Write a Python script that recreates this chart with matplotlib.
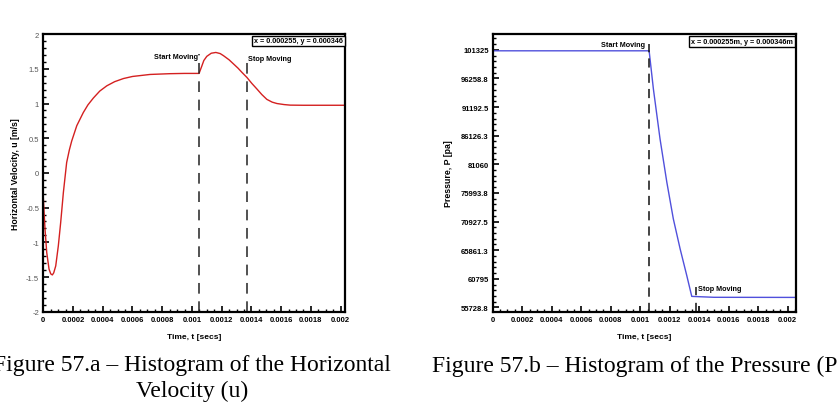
import matplotlib
matplotlib.use("Agg")
import matplotlib.pyplot as plt
from matplotlib.ticker import AutoMinorLocator

plt.rcParams['font.family'] = ['Liberation Sans', 'DejaVu Sans']

# ---- data: horizontal velocity (left) ----
t_u = [0.0, 0.0000114, 0.0000229, 0.0000384, 0.00005, 0.0000607, 0.00007,
       0.0000835, 0.000101, 0.000117, 0.000135, 0.000157, 0.000175, 0.000191,
       0.000225, 0.000269, 0.0003, 0.000337, 0.00038, 0.000427, 0.00048,
       0.000539, 0.0006, 0.000718, 0.00085, 0.00095, 0.001048,
       0.001067, 0.00108, 0.0011, 0.00113, 0.001161, 0.00119, 0.001212,
       0.00125, 0.00128, 0.00131, 0.001336, 0.00137, 0.001403, 0.001437,
       0.00147, 0.001504, 0.00154, 0.001572, 0.00162, 0.001661, 0.00175,
       0.00185, 0.00203]
u_vals = [-0.36, -0.81, -1.146, -1.386, -1.455, -1.47, -1.44,
          -1.34, -1.05, -0.71, -0.28, 0.15, 0.33, 0.46,
          0.68, 0.87, 0.98, 1.08, 1.18, 1.255, 1.315,
          1.36, 1.39, 1.419, 1.43, 1.434, 1.434,
          1.543, 1.62, 1.68, 1.725, 1.736, 1.72, 1.69,
          1.63, 1.57, 1.51, 1.45, 1.376, 1.29, 1.21,
          1.13, 1.06, 1.02, 1.0, 0.985, 0.977, 0.975,
          0.975, 0.975]

# ---- data: pressure (right) ----
t_p = [0.0, 0.00106, 0.001089, 0.001134, 0.00118, 0.001224, 0.00127,
       0.001315, 0.001349, 0.0015, 0.00205]
p_vals = [101150, 101150, 94381, 85546, 77894, 71409, 66108,
          61390, 57680, 57520, 57500]

u_ticks = [-2, -1.5, -1, -0.5, 0, 0.5, 1, 1.5, 2]
u_ticklabels = ['-2', '-1.5', '-1', '-0.5', '0', '0.5', '1', '1.5', '2']
p_ticks = [55728.8, 60795, 65861.3, 70927.5, 75993.8, 81060, 86126.3,
           91192.5, 96258.8, 101325]
p_ticklabels = ['55728.8', '60795', '65861.3', '70927.5', '75993.8', '81060',
                '86126.3', '91192.5', '96258.8', '101325']
t_ticks = [0, 0.0002, 0.0004, 0.0006, 0.0008, 0.001, 0.0012, 0.0014,
           0.0016, 0.0018, 0.002]
t_ticklabels = ['0', '0.0002', '0.0004', '0.0006', '0.0008', '0.001', '0.0012',
                '0.0014', '0.0016', '0.0018', '0.002']

start_u, stop_u = 0.001048, 0.00137
start_p, stop_p = 0.00106, 0.001376

fig = plt.figure(figsize=(8.38, 4.10), dpi=100)
ax1 = fig.add_axes([0.0517, 0.2373, 0.360, 0.677])
ax2 = fig.add_axes([0.588, 0.2373, 0.3616, 0.677])

def style(ax, xmax):
    for s in ax.spines.values():
        s.set_linewidth(1.6)
    ax.set_xlim(0, xmax)
    ax.set_xticks(t_ticks)
    ax.set_xticklabels(t_ticklabels, fontsize=5.5, fontweight='bold')
    ax.xaxis.set_minor_locator(AutoMinorLocator(4))
    ax.tick_params(which='major', direction='in', length=4, width=1.2,
                   top=False, right=False, pad=3)
    ax.tick_params(which='minor', direction='in', length=2, width=1.0,
                   top=False, right=False)
    ax.set_xlabel('Time, t [secs]', fontsize=6, fontweight='bold', labelpad=7)

# left plot
ax1.plot(t_u, u_vals, color='#d42020', lw=1.0)
ax1.set_ylim(-2, 2)
style(ax1, 0.00203)
ax1.set_yticks(u_ticks)
ax1.set_yticklabels(u_ticklabels, fontsize=5.5, color='#555555')
ax1.yaxis.set_minor_locator(AutoMinorLocator(5))
ax1.set_ylabel('Horizontal Velocity, u [m/s]', fontsize=6.3, fontweight='bold',
               labelpad=4)
ax1.plot([start_u, start_u], [-2, 1.71], color='#222222', lw=1.1,
         dashes=(7, 5))
ax1.plot([stop_u, stop_u], [-2, 1.69], color='#222222', lw=1.1,
         dashes=(7, 5))
ax1.text(start_u - 0.000004, 1.673, 'Start Moving', fontsize=5.2,
         fontweight='bold', ha='right', va='center')
ax1.text(stop_u + 0.000006, 1.65, 'Stop Moving', fontsize=5.2,
         fontweight='bold', ha='left', va='center')
ax1.text(0.993, 0.988, 'x = 0.000255, y = 0.000346', transform=ax1.transAxes,
         fontsize=5.2, fontweight='bold', ha='right', va='top',
         bbox=dict(boxstyle='square,pad=0.25', fc='white', ec='black', lw=1))

# right plot
ax2.plot(t_p, p_vals, color='#5050dc', lw=1.0)
ax2.set_ylim(54970, 104100)
style(ax2, 0.002054)
ax2.set_yticks(p_ticks)
ax2.set_yticklabels(p_ticklabels, fontsize=5.5, fontweight='bold')
ax2.yaxis.set_minor_locator(AutoMinorLocator(5))
ax2.set_ylabel('Pressure, P [pa]', fontsize=6.3, fontweight='bold', labelpad=6)
ax2.plot([start_p, start_p], [54970, 102330], color='#111111', lw=1.1,
         dashes=(6, 4))
ax2.plot([stop_p, stop_p], [54970, 59400], color='#111111', lw=1.1,
         dashes=(6, 5))
ax2.text(start_p - 0.00003, 102250, 'Start Moving', fontsize=5.2,
         fontweight='bold', ha='right', va='center')
ax2.text(stop_p + 0.000012, 59157, 'Stop Moving', fontsize=5.2,
         fontweight='bold', ha='left', va='center')
ax2.text(0.99, 0.985, 'x = 0.000255m, y = 0.000346m', transform=ax2.transAxes,
         fontsize=5.2, fontweight='bold', ha='right', va='top',
         bbox=dict(boxstyle='square,pad=0.25', fc='white', ec='black', lw=1))

# captions
cap_font = ['Liberation Serif', 'DejaVu Serif']
fig.text(192 / 838, 1 - 366 / 410,
         'Figure 57.a \u2013 Histogram of the Horizontal',
         fontsize=17, family=cap_font, ha='center', va='center')
fig.text(192 / 838, 1 - 391 / 410, 'Velocity (u)', fontsize=17,
         family=cap_font, ha='center', va='center')
fig.text(432 / 838, 1 - 366 / 410,
         'Figure 57.b \u2013 Histogram of the Pressure (P)',
         fontsize=17, family=cap_font, ha='left', va='center')

fig.savefig('out.png', dpi=100)
